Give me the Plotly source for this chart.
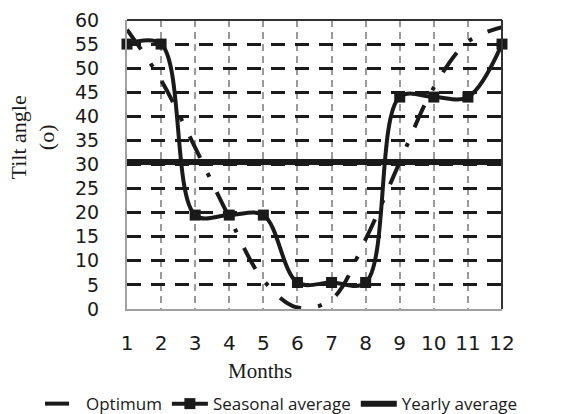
import plotly.graph_objects as go

months = list(range(1, 13))
optimum = [58, 47.5, 33.5, 19, 6, 0.3, 2, 14.5, 30.5, 46, 55.5, 58.5]
seasonal = [55, 55, 19.5, 19.5, 19.5, 5.5, 5.5, 5.5, 44, 44, 44, 55]
yearly = [30.5] * 12
x_tick_labels = [str(m) for m in months]
y_tick_vals = list(range(0, 61, 5))

INK = "#1a1a1a"

fig = go.Figure()
fig.add_trace(go.Scatter(
    x=months, y=optimum, name="Optimum", mode="lines",
    line=dict(color=INK, width=4, dash="24px,17px,4px,17px", shape="spline", smoothing=1),
))
fig.add_trace(go.Scatter(
    x=months, y=seasonal, name="Seasonal average", mode="lines+markers",
    line=dict(color=INK, width=4, shape="spline", smoothing=1),
    marker=dict(symbol="square", size=11, color=INK),
    cliponaxis=False,
))
fig.add_trace(go.Scatter(
    x=months, y=yearly, name="Yearly average", mode="lines",
    line=dict(color=INK, width=6),
))

# the page body adds an 8px offset, so the figure is sized 8px smaller
fig.update_layout(
    width=574, height=406,
    margin=dict(l=119, r=80, t=12, b=105, autoexpand=False),
    paper_bgcolor="white", plot_bgcolor="white",
    font=dict(family="Open Sans", color=INK),
    showlegend=True,
    legend=dict(
        orientation="h", x=-0.232, xanchor="left", y=-0.329, yanchor="middle",
        font=dict(family="Open Sans", size=17, color=INK),
        bgcolor="rgba(0,0,0,0)", tracegroupgap=0, itemwidth=36, borderwidth=0,
    ),
    xaxis=dict(
        range=[1, 12], tickvals=months, ticktext=x_tick_labels,
        showgrid=True, gridcolor="#9a9a9a", gridwidth=1.5, griddash="7px,5px",
        showline=True, linecolor="#a0a0a0", linewidth=2,
        ticks="", ticklabelstandoff=15,
        tickfont=dict(family="DejaVu Sans", size=20, color=INK),
        zeroline=False, automargin=False,
    ),
    yaxis=dict(
        range=[0, 60], tickvals=y_tick_vals,
        showgrid=True, gridcolor=INK, gridwidth=3, griddash="14px,10px",
        showline=True, linecolor="#a0a0a0", linewidth=2,
        ticks="", ticklabelstandoff=22,
        tickfont=dict(family="DejaVu Sans", size=19, color=INK),
        zeroline=False, automargin=False,
    ),
    shapes=[
        dict(type="line", xref="x domain", yref="y domain", x0=0, x1=1, y0=1, y1=1,
             line=dict(color="#333333", width=2), layer="above"),
        dict(type="line", xref="x domain", yref="y domain", x0=1, x1=1, y0=0, y1=1,
             line=dict(color="#333333", width=2), layer="above"),
    ],
    annotations=[
        dict(text="Months", xref="paper", yref="paper", x=0.355, y=-0.2145,
             xanchor="center", yanchor="middle", showarrow=False,
             font=dict(family="Liberation Serif", size=21, color=INK)),
        dict(text="Tilt angle<br>(o)", xref="paper", yref="paper", x=-0.252, y=0.592,
             xanchor="center", yanchor="middle", showarrow=False, textangle=-90,
             font=dict(family="Liberation Serif", size=22, color=INK)),
    ],
)

fig.write_html("out.html")
